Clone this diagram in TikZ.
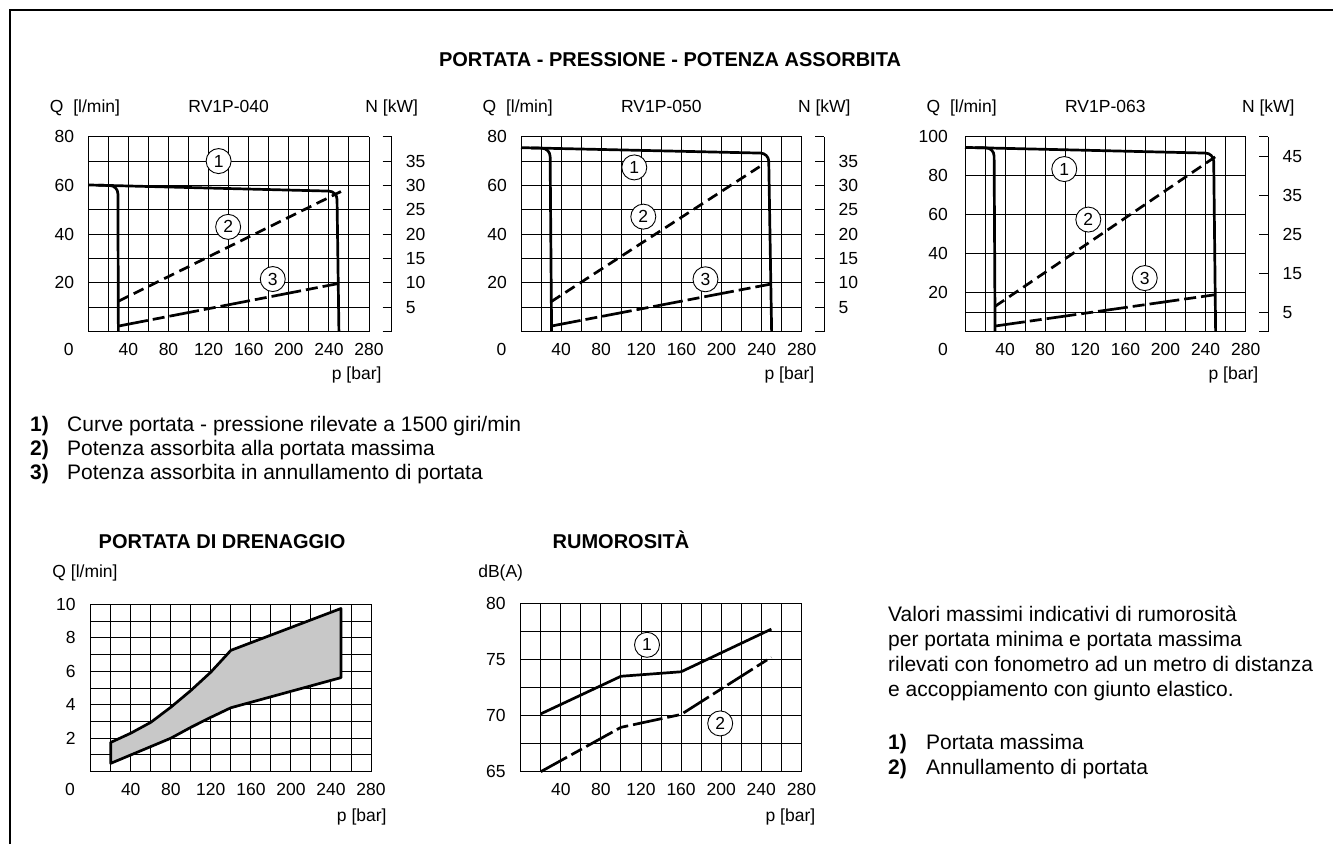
\documentclass[tikz,border=0pt]{standalone}
\usepackage{fontspec}
\setmainfont{Liberation Sans}
\usetikzlibrary{positioning}

\definecolor{drainfill}{RGB}{200,200,200}

\tikzset{
  gridline/.style={line width=1pt},
  curve/.style={line width=2.7pt, line join=round},
  powerline/.style={curve, dash pattern=on 11pt off 6pt},
  mixedline/.style={curve, dash pattern=on 30pt off 5pt on 12pt off 5pt},
  numcirc/.style={circle, draw, line width=0.9pt, fill=white, inner sep=0pt,
    minimum size=25pt, font=\fontsize{17.5}{20}\selectfont},
  lbl/.style={font=\fontsize{17.5}{20}\selectfont, inner sep=0pt},
  head/.style={lbl, anchor=base, yshift=24pt},
  txt/.style={font=\fontsize{21}{25}\selectfont, inner sep=0pt, anchor=base west},
  ttl/.style={font=\fontsize{20}{24}\selectfont\bfseries, inner sep=0pt, anchor=base},
}

\begin{document}
\begin{tikzpicture}[x=1pt, y=1pt]
  \useasboundingbox (0,0) rectangle (1333,844);

  % Frame
  \draw[line width=1.5pt] (10,0) -- (10,834) -- (1333,834);

  % Title
  \node[ttl] (title) at (670,777) {PORTATA - PRESSIONE - POTENZA ASSORBITA};

  % Chart RV1P-040
  \begin{scope}[shift={(88.3,512.3)}, x=1.0025pt, y=2.4375pt]
    \foreach \x in {0,20,...,280} \draw[gridline] (\x,0) -- (\x,80);
    \foreach \y in {0,10,...,80} {
      \draw[gridline] (0,\y) -- (280,\y);
      \draw[gridline] (293.6,\y) -- (302.6,\y);
    }
    \draw[gridline] (302.6,0) -- (302.6,80);
    \foreach \y in {20,40,60,80} \node[lbl, anchor=east, xshift=-14pt] (qa\y) at (0,\y) {\y};
    \foreach \y/\n in {10/5,20/10,30/15,40/20,50/25,60/30,70/35}
      \node[lbl, anchor=west, xshift=14pt] (na\n) at (302.6,\y) {\n};
    \foreach \x in {40,80,...,280} \node[lbl, yshift=-17.6pt] (pa\x) at (\x,0) {\x};
    \node[lbl, xshift=-19.6pt, yshift=-17.6pt] (za) at (0,0) {0};
    \node[lbl, anchor=east, xshift=12.7pt, yshift=-43pt] (bara) at (280,0) {p [bar]};
    \node[head, xshift=-3.3pt] (qunita) at (0,80) {Q\ \ [l/min]};
    \node[head] (modela) at (140,80) {RV1P-040};
    \node[head] (nunita) at (302.6,80) {N [kW]};
    % Curves
    \draw[curve, rounded corners=8pt] (0,60.2) -- (248,57.6) -- (250,0);
    \draw[curve, rounded corners=8pt] (10,60.1) -- (29.5,59.9) -- (30,0);
    \draw[powerline] (30,12.5) -- (252,57.5);
    \draw[mixedline] (30,2.3) -- (250,19.8);
    \node[numcirc] (ca1) at (130,70) {1};
    \node[numcirc] (ca2) at (139.5,43) {2};
    \node[numcirc] (ca3) at (184,21.6) {3};
  \end{scope}

  % Chart RV1P-050
  \begin{scope}[shift={(521,512.3)}, x=1.0025pt, y=2.4375pt]
    \foreach \x in {0,20,...,280} \draw[gridline] (\x,0) -- (\x,80);
    \foreach \y in {0,10,...,80} {
      \draw[gridline] (0,\y) -- (280,\y);
      \draw[gridline] (293.6,\y) -- (302.6,\y);
    }
    \draw[gridline] (302.6,0) -- (302.6,80);
    \foreach \y in {20,40,60,80} \node[lbl, anchor=east, xshift=-14pt] (qb\y) at (0,\y) {\y};
    \foreach \y/\n in {10/5,20/10,30/15,40/20,50/25,60/30,70/35}
      \node[lbl, anchor=west, xshift=14pt] (nb\n) at (302.6,\y) {\n};
    \foreach \x in {40,80,...,280} \node[lbl, yshift=-17.6pt] (pb\x) at (\x,0) {\x};
    \node[lbl, xshift=-19.6pt, yshift=-17.6pt] (zb) at (0,0) {0};
    \node[lbl, anchor=east, xshift=12.7pt, yshift=-43pt] (barb) at (280,0) {p [bar]};
    \node[head, xshift=-3.3pt] (qunitb) at (0,80) {Q\ \ [l/min]};
    \node[head] (modelb) at (140,80) {RV1P-050};
    \node[head] (nunitb) at (302.6,80) {N [kW]};
    % Curves
    \draw[curve, rounded corners=8pt] (0,75.5) -- (247,73.2) -- (250,0);
    \draw[curve, rounded corners=8pt] (10,75.4) -- (29,75.2) -- (30.5,0);
    \draw[powerline] (30,12.3) -- (238,67.7);
    \draw[mixedline] (30,2.3) -- (250,19.6);
    \node[numcirc] (cb1) at (113,67.4) {1};
    \node[numcirc] (cb2) at (122,47.2) {2};
    \node[numcirc] (cb3) at (184,21.5) {3};
  \end{scope}

  % Chart RV1P-063
  \begin{scope}[shift={(965,512.3)}, x=1.0025pt, y=1.95pt]
    \foreach \x in {0,20,...,280} \draw[gridline] (\x,0) -- (\x,100);
    \foreach \y in {0,10,20,40,60,80,100} \draw[gridline] (0,\y) -- (280,\y);
    \foreach \y in {0,10,30,50,70,90,100} \draw[gridline] (293.6,\y) -- (302.6,\y);
    \draw[gridline] (302.6,0) -- (302.6,100);
    \foreach \y in {20,40,60,80,100} \node[lbl, anchor=east, xshift=-17pt] (qc\y) at (0,\y) {\y};
    \foreach \y/\n in {10/5,30/15,50/25,70/35,90/45}
      \node[lbl, anchor=west, xshift=14pt] (nc\n) at (302.6,\y) {\n};
    \foreach \x in {40,80,...,280} \node[lbl, yshift=-17.6pt] (pc\x) at (\x,0) {\x};
    \node[lbl, xshift=-22pt, yshift=-17.6pt] (zc) at (0,0) {0};
    \node[lbl, anchor=east, xshift=12.7pt, yshift=-43pt] (barc) at (280,0) {p [bar]};
    \node[head, xshift=-3.3pt] (qunitc) at (0,100) {Q\ \ [l/min]};
    \node[head] (modelc) at (140,100) {RV1P-063};
    \node[head] (nunitc) at (302.6,100) {N [kW]};
    % Curves
    \draw[curve, rounded corners=8pt] (0,94.5) -- (248,91.5) -- (250,0);
    \draw[curve, rounded corners=8pt] (10,94.4) -- (29,94.2) -- (30,0);
    \draw[powerline] (30,13) -- (250,89.8);
    \draw[mixedline] (30,2.9) -- (250,19);
    \node[numcirc] (cc1) at (99,83.4) {1};
    \node[numcirc] (cc2) at (123,57.5) {2};
    \node[numcirc] (cc3) at (179.3,27.5) {3};
  \end{scope}

  % Legend of the curves
  \node[txt] (la1) at (30,412.5) {\textbf{1)}};
  \node[txt] (lt1) at (67,412.5) {Curve portata - pressione rilevate a 1500 giri/min};
  \node[txt] (la2) at (30,388.5) {\textbf{2)}};
  \node[txt] (lt2) at (67,388.5) {Potenza assorbita alla portata massima};
  \node[txt] (la3) at (30,364.5) {\textbf{3)}};
  \node[txt] (lt3) at (67,364.5) {Potenza assorbita in annullamento di portata};

  % Drain flow
  \node[ttl] (draintitle) at (222,295) {PORTATA DI DRENAGGIO};
  \begin{scope}[shift={(90.7,72.3)}, x=1.0012pt, y=16.74pt]
    \foreach \x in {0,20,...,280} \draw[gridline] (\x,0) -- (\x,10);
    \foreach \y in {0,...,10} \draw[gridline] (0,\y) -- (280,\y);
    \draw[curve, fill=drainfill] (20,1.75) -- (40,2.3) -- (60,2.95) -- (80,3.85)
      -- (100,4.85) -- (120,5.95) -- (140,7.25) -- (250,9.75) -- (250,5.62)
      -- (140,3.82) -- (120,3.25) -- (100,2.65) -- (80,2.0) -- (60,1.5)
      -- (40,1.0) -- (20,0.5) -- cycle;
    \foreach \y in {2,4,...,10} \node[lbl, anchor=east, xshift=-15pt] (qd\y) at (0,\y) {\y};
    \foreach \x in {40,80,...,280} \node[lbl, yshift=-17.6pt] (pd\x) at (\x,0) {\x};
    \node[lbl, xshift=-20.7pt, yshift=-17.6pt] (zd) at (0,0) {0};
    \node[lbl, anchor=east, xshift=15.7pt, yshift=-45pt] (bard) at (280,0) {p [bar]};
    \node[lbl, anchor=base, xshift=-5.7pt, yshift=27pt] (qunitd) at (0,10) {Q [l/min]};
  \end{scope}

  % Noise
  \node[ttl] (noisetitle) at (621,295) {RUMOROSITÀ};
  \begin{scope}[shift={(520.7,-657.45)}, x=1.0025pt, y=11.227pt]
    \foreach \x in {0,20,...,280} \draw[gridline] (\x,65) -- (\x,80);
    \foreach \y in {65,67.5,...,80} \draw[gridline] (0,\y) -- (280,\y);
    \foreach \y in {65,70,75,80} \node[lbl, anchor=east, xshift=-15pt] (db\y) at (0,\y) {\y};
    \foreach \x in {40,80,...,280} \node[lbl, yshift=-17.6pt] (pe\x) at (\x,65) {\x};
    \node[lbl, anchor=east, xshift=14pt, yshift=-45pt] (bare) at (280,65) {p [bar]};
    \node[lbl, anchor=base, xshift=-20pt, yshift=26pt] (dbunit) at (0,80) {dB(A)};
    \draw[curve] (20,70.15) -- (100,73.5) -- (160,73.9) -- (250,77.7);
    \draw[mixedline] (20,65) -- (100,68.95) -- (160,70.1) -- (250,75.2);
    \node[numcirc] (ce1) at (126,76.3) {1};
    \node[numcirc] (ce2) at (199,69.3) {2};
  \end{scope}

  % Noise notes
  \node[txt] (v1) at (888,222.5) {Valori massimi indicativi di rumorosità};
  \node[txt] (v2) at (888,197.5) {per portata minima e portata massima};
  \node[txt] (v3) at (888,172.5) {rilevati con fonometro ad un metro di distanza};
  \node[txt] (v4) at (888,147.5) {e accoppiamento con giunto elastico.};
  \node[txt] (ln1) at (888,94.8) {\textbf{1)}};
  \node[txt] (lm1) at (926,94.8) {Portata massima};
  \node[txt] (ln2) at (888,69.8) {\textbf{2)}};
  \node[txt] (lm2) at (926,69.8) {Annullamento di portata};
\end{tikzpicture}
\end{document}
